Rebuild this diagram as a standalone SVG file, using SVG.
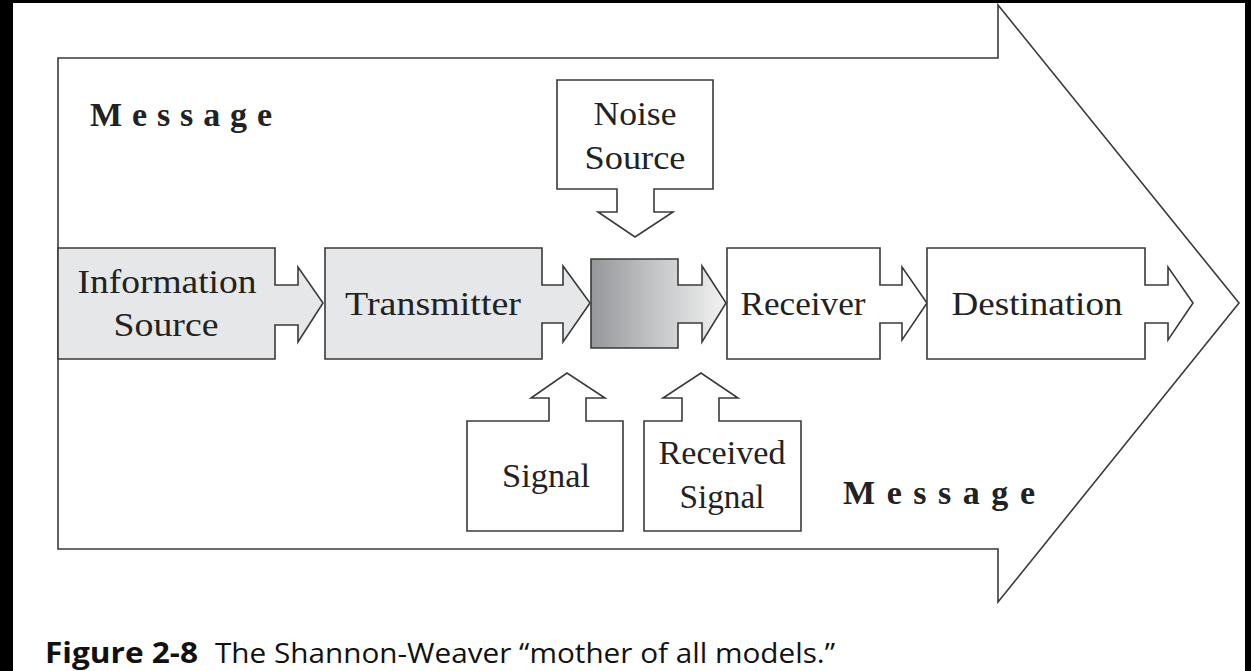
<svg xmlns="http://www.w3.org/2000/svg" width="1251" height="671" viewBox="0 0 1251 671">
<style>
.shape{stroke:#3a3a3a;stroke-width:1.6;stroke-linejoin:miter}
.lbl{font-family:"Liberation Serif","DejaVu Serif",serif;font-size:33px;fill:#222}
.msg{font-family:"Liberation Serif","DejaVu Serif",serif;font-size:34px;font-weight:bold;fill:#222}
.cap{font-family:"Open Sans","Liberation Sans",sans-serif;font-size:28px;fill:#111}
</style>
<defs>
<linearGradient id="chanGrad" gradientUnits="userSpaceOnUse" x1="591" y1="0" x2="726" y2="0">
<stop offset="0" stop-color="#96979a"/>
<stop offset="0.5" stop-color="#c6c7c9"/>
<stop offset="1" stop-color="#f2f2f2"/>
</linearGradient>
</defs>
<rect x="0" y="0" width="1251" height="671" fill="#000"/>
<rect x="13" y="3" width="1232" height="668" fill="#fff"/>

<g id="message-arrow">
<path class="shape" fill="#fff" stroke="#4a4a4a" d="M58,58 H998 V5 L1239,303 L998,602 V549 H58 Z"/>
<text class="msg" x="90" y="126" textLength="182" lengthAdjust="spacing">Message</text>
<text class="msg" x="843" y="504" textLength="192" lengthAdjust="spacing">Message</text>
</g>

<g id="connectors"></g>

<g id="information-source">
<path class="shape" fill="#e6e7e8" d="M58,248 H275 V285 H298 V267 L323,303 L298,342 V325 H275 V359 H58 Z"/>
<text class="lbl" x="167" y="293" text-anchor="middle" textLength="179" lengthAdjust="spacingAndGlyphs">Information</text>
<text class="lbl" x="166" y="336" text-anchor="middle" textLength="105" lengthAdjust="spacingAndGlyphs">Source</text>
</g>

<g id="transmitter">
<path class="shape" fill="#e6e7e8" d="M325,248 H542 V285 H563 V266 L590,303 L563,342 V323 H542 V359 H325 Z"/>
<text class="lbl" x="433" y="315" text-anchor="middle" textLength="176" lengthAdjust="spacingAndGlyphs">Transmitter</text>
</g>

<g id="channel">
<path class="shape" fill="url(#chanGrad)" d="M591,259 H678 V285 H702 V266 L726,303 L702,342 V323 H678 V348 H591 Z"/>
</g>

<g id="receiver">
<path class="shape" fill="#fff" d="M727,248 H880 V285 H902 V267 L927,303 L902,340 V323 H880 V359 H727 Z"/>
<text class="lbl" x="803" y="315" text-anchor="middle" textLength="125" lengthAdjust="spacingAndGlyphs">Receiver</text>
</g>

<g id="destination">
<path class="shape" fill="#fff" d="M927,248 H1145 V285 H1168 V267 L1193,303 L1168,340 V323 H1145 V359 H927 Z"/>
<text class="lbl" x="1037" y="315" text-anchor="middle" textLength="171" lengthAdjust="spacingAndGlyphs">Destination</text>
</g>

<g id="noise-source">
<path class="shape" fill="#fff" d="M557,80 H713 V189 H654 V212 H673 L635,237 L598,212 H617 V189 H557 Z"/>
<text class="lbl" x="635" y="125" text-anchor="middle" textLength="83" lengthAdjust="spacingAndGlyphs">Noise</text>
<text class="lbl" x="635" y="169" text-anchor="middle" textLength="101" lengthAdjust="spacingAndGlyphs">Source</text>
</g>

<g id="signal">
<path class="shape" fill="#fff" d="M467,421 H549 V398 H531 L567,373 L605,398 H586 V421 H623 V531 H467 Z"/>
<text class="lbl" x="546" y="487" text-anchor="middle" textLength="88" lengthAdjust="spacingAndGlyphs">Signal</text>
</g>

<g id="received-signal">
<path class="shape" fill="#fff" d="M644,421 H682 V398 H663 L701,373 L738,398 H719 V421 H801 V531 H644 Z"/>
<text class="lbl" x="722" y="464" text-anchor="middle" textLength="127" lengthAdjust="spacingAndGlyphs">Received</text>
<text class="lbl" x="722" y="508" text-anchor="middle" textLength="85" lengthAdjust="spacingAndGlyphs">Signal</text>
</g>

<g id="caption">
<text class="cap" x="45" y="663"><tspan font-weight="bold" textLength="153" lengthAdjust="spacingAndGlyphs">Figure 2-8</tspan><tspan x="215" textLength="620" lengthAdjust="spacingAndGlyphs">The Shannon-Weaver “mother of all models.”</tspan></text>
</g>
</svg>
